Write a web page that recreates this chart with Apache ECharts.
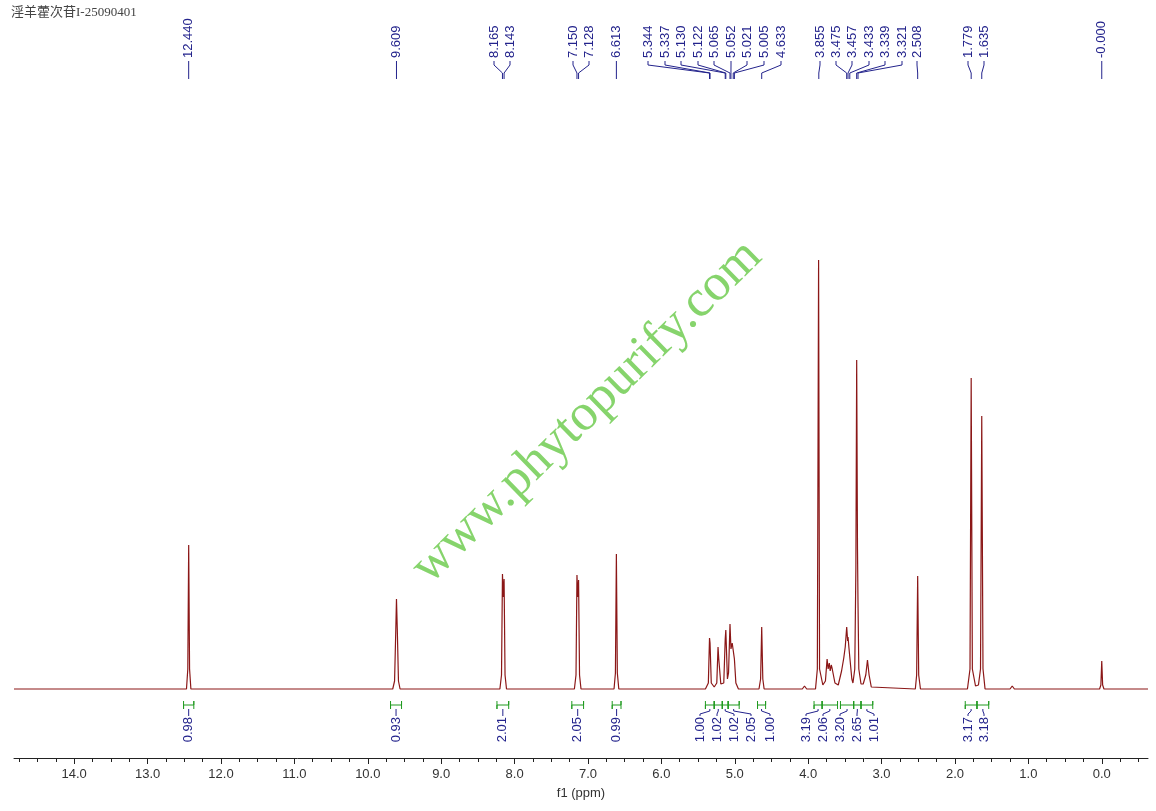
<!DOCTYPE html>
<html><head><meta charset="utf-8">
<script src="https://cdn.jsdelivr.net/npm/echarts@6/dist/echarts.min.js"></script>
<style>html,body{margin:0;padding:0;background:#fff}#c{width:1156px;height:811px}</style>
</head><body><div id="c"></div>
<script>
// ---- DATA ----
const TITLE = '淫羊藿次苷I-25090401';
const WATERMARK = 'www.phytopurify.com';
const X_TICKS = [0,1,2,3,4,5,6,7,8,9,10,11,12,13,14];
// spectrum trace [ppm, intensity]
const SPECTRUM = [
 [14.82,0],[12.47,0],[12.452,20],[12.44,144],[12.428,20],[12.41,0],
 [9.66,0],[9.635,8],[9.618,60],[9.609,90],[9.598,60],[9.582,8],[9.56,0],
 [8.20,0],[8.178,14],[8.165,115],[8.154,92],[8.143,110],[8.13,14],[8.11,0],
 [7.185,0],[7.163,14],[7.150,114],[7.139,92],[7.128,109],[7.115,14],[7.095,0],
 [6.645,0],[6.626,16],[6.613,135],[6.600,16],[6.58,0],
 [5.40,0],[5.36,6],[5.344,51],[5.337,46],[5.32,6],[5.28,2],[5.245,6],[5.228,42],[5.218,30],[5.21,32],[5.19,5],
 [5.15,6],[5.130,50],[5.122,59],[5.10,10],[5.085,16],[5.065,65],[5.052,40],[5.035,46],[5.021,44],[5.005,30],[4.985,6],[4.95,0],
 [4.67,0],[4.648,10],[4.633,62],[4.618,10],[4.60,0],
 [4.08,0],[4.05,3],[4.02,0],
 [3.90,0],[3.875,20],[3.858,429],[3.845,20],[3.80,4],[3.765,8],[3.742,30],[3.728,20],[3.712,26],[3.70,18],[3.685,24],[3.672,20],[3.66,21],[3.635,6],
 [3.59,4],[3.545,18],[3.515,31],[3.495,42],[3.475,62],[3.462,48],[3.457,52],[3.443,40],[3.425,38],[3.405,10],[3.39,6],[3.365,20],[3.35,120],[3.339,329],[3.328,140],[3.321,86],[3.31,20],[3.28,5],
 [3.25,5],[3.215,14],[3.192,29],[3.17,14],[3.14,2],[3.12,0],
 [2.54,0],[2.522,14],[2.508,113],[2.494,14],[2.47,0],
 [1.83,0],[1.795,20],[1.779,311],[1.763,20],[1.72,3],[1.68,4],[1.652,20],[1.635,273],[1.618,20],[1.59,0],
 [1.25,0],[1.22,3],[1.19,0],
 [0.03,0],[0.012,4],[0.000,28],[-0.012,4],[-0.03,0],[-0.63,0]
];
// peak picking labels
const PEAK_PPM = [12.440,9.609,8.165,8.143,7.150,7.128,6.613,5.344,5.337,5.130,5.122,5.065,5.052,5.021,5.005,4.633,3.855,3.475,3.457,3.433,3.339,3.321,2.508,1.779,1.635,0.000];
const PEAK_TEXT = ['12.440','9.609','8.165','8.143','7.150','7.128','6.613','5.344','5.337','5.130','5.122','5.065','5.052','5.021','5.005','4.633','3.855','3.475','3.457','3.433','3.339','3.321','2.508','1.779','1.635','-0.000'];
// integrals
const INT_FROM = [12.51,9.69,8.24,7.22,6.67,5.40,5.28,5.17,5.09,4.69,3.92,3.81,3.56,3.38,3.28,1.86,1.70];
const INT_TO   = [12.37,9.54,8.08,7.06,6.55,5.28,5.17,5.09,4.94,4.58,3.81,3.60,3.38,3.28,3.12,1.70,1.54];
const INT_VALUE = ['0.98','0.93','2.01','2.05','0.99','1.00','1.02','1.02','2.05','1.00','3.19','2.06','3.20','2.65','1.01','3.17','3.18'];

// ---- LAYOUT (annotation label placement in pixels; null = directly at its peak / integral) ----
const PEAK_LABEL_X = [null,null,494,510,573,589,null,648,665,681,698,714,731,747,764,781,820,836,852,869,885,902,917,968,984,null];
const INT_LABEL_X = [null,null,null,null,null,700,717,734,751,770,806,823,840,857,874,968,984];
const NAVY = '#23238c', GREEN = '#1f9a1f', TRACE = '#8b1717';

const chart = echarts.init(document.getElementById('c'), null, {renderer:'canvas'});
const minorTicks = [];
for (let k = -2; k <= 59; k++) { const v = k/4; if (k % 4 !== 0 && v > -0.63 && v < 14.82) minorTicks.push(v); }

chart.setOption({
  animation: false,
  backgroundColor: '#fff',
  grid: {left: 14, right: 8, top: 60, bottom: 53},
  xAxis: [{
    type: 'value', inverse: true, min: -0.63, max: 14.82, position: 'bottom',
    axisLine: {show: true, onZero: false, lineStyle: {color: '#222', width: 1}},
    axisTick: {show: true, customValues: X_TICKS, length: 6, lineStyle: {color: '#222'}},
    axisLabel: {show: true, customValues: X_TICKS, formatter: v => v.toFixed(1), color: '#333', fontSize: 13, fontFamily: 'Liberation Sans', margin: 10},
    splitLine: {show: false},
    name: 'f1 (ppm)', nameLocation: 'middle', nameGap: 29,
    nameTextStyle: {color: '#333', fontSize: 13, fontFamily: 'Liberation Sans'}
  }, {
    type: 'value', inverse: true, min: -0.63, max: 14.82, position: 'bottom',
    axisLine: {show: false, onZero: false},
    axisTick: {show: true, customValues: minorTicks, length: 4, lineStyle: {color: '#222'}},
    axisLabel: {show: false}, splitLine: {show: false}
  }],
  yAxis: {type: 'value', min: -69, max: 629, show: false},
  graphic: [
    {type: 'text', left: 11, top: 6, style: {text: TITLE, fill: '#444', font: '13px "Liberation Serif", "Noto Sans CJK SC"'}},
    {type: 'text', x: 587, y: 412, rotation: 0.775, silent: true, z: 50,
     style: {text: WATERMARK, fill: '#86d46c', align: 'center', verticalAlign: 'middle', font: '52px "Liberation Serif"'}}
  ],
  series: [
    {type: 'line', data: SPECTRUM, showSymbol: false, symbol: 'none', lineStyle: {color: TRACE, width: 1.2}, z: 3, silent: true},
    {type: 'custom', silent: true, data: PEAK_PPM.map(p => [p, 0]),
     renderItem: function (params, api) {
       const i = params.dataIndex;
       const px = api.coord([PEAK_PPM[i], 0])[0];
       const lx = PEAK_LABEL_X[i] == null ? px : PEAK_LABEL_X[i];
       return {type: 'group', children: [
         {type: 'text', x: lx, y: 58, rotation: Math.PI/2,
          style: {text: PEAK_TEXT[i], x: 0, y: 0, align: 'left', verticalAlign: 'middle', fill: NAVY, font: '13px "Liberation Sans"'}},
         {type: 'polyline', shape: {points: [[lx,61],[lx,65],[px,73],[px,79]]}, style: {stroke: NAVY, lineWidth: 1, fill: null}}
       ]};
     }},
    {type: 'custom', silent: true, data: INT_FROM.map((f, i) => [(f + INT_TO[i]) / 2, 0]),
     renderItem: function (params, api) {
       const i = params.dataIndex;
       const x1 = api.coord([INT_FROM[i], 0])[0], x2 = api.coord([INT_TO[i], 0])[0];
       const cx = (x1 + x2) / 2;
       const lx = INT_LABEL_X[i] == null ? cx : INT_LABEL_X[i];
       return {type: 'group', children: [
         {type: 'polyline', shape: {points: [[x1,701],[x1,709],[x1,705],[x2,705],[x2,701],[x2,709]]}, style: {stroke: GREEN, lineWidth: 1, fill: null}},
         {type: 'polyline', shape: {points: [[cx,709],[cx,711],[lx,714],[lx,716]]}, style: {stroke: NAVY, lineWidth: 1, fill: null}},
         {type: 'text', x: lx, y: 717, rotation: Math.PI/2,
          style: {text: INT_VALUE[i], x: 0, y: 0, align: 'right', verticalAlign: 'middle', fill: NAVY, font: '13px "Liberation Sans"'}}
       ]};
     }}
  ]
});
</script></body></html>
